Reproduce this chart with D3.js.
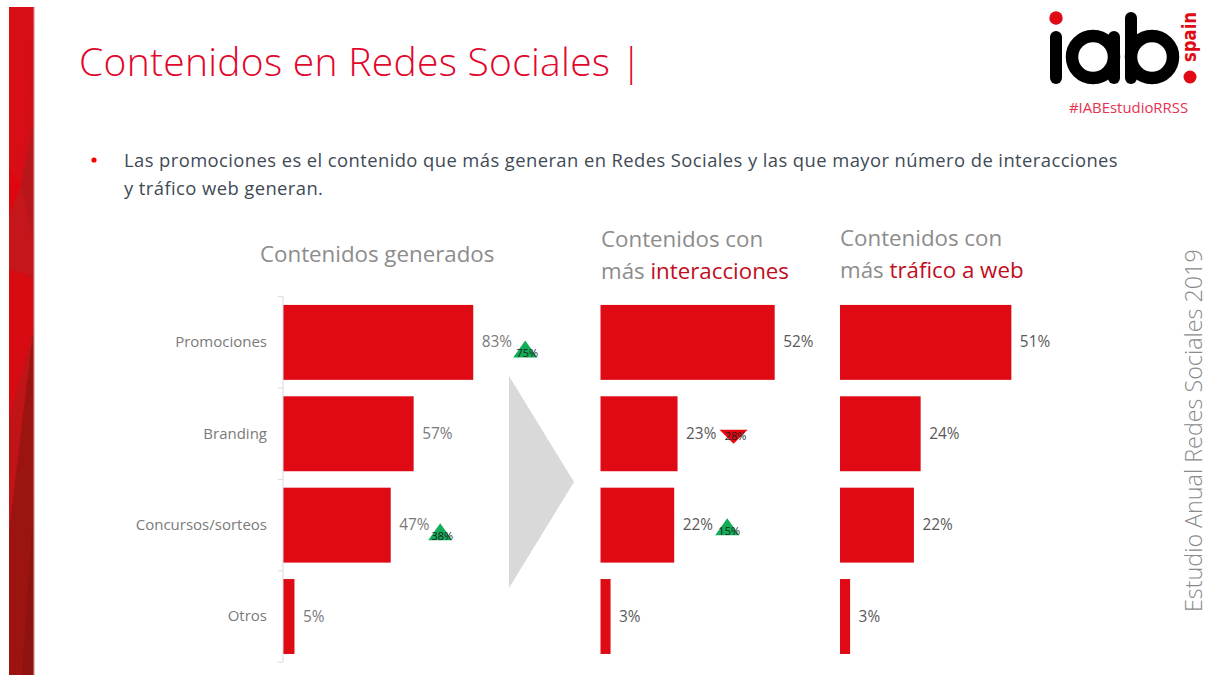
<!DOCTYPE html>
<html><head><meta charset="utf-8">
<script src="https://cdnjs.cloudflare.com/ajax/libs/d3/7.9.0/d3.min.js"></script>
<style>html,body{margin:0;padding:0;background:#fff}svg{display:block}text{font-family:"Open Sans",sans-serif}</style>
</head><body><svg id="c" width="1209" height="675"></svg>
<script>
const categories = ["Promociones","Branding","Concursos/sorteos","Otros"];
const generados = [83,57,47,5];
const interacciones = [52,23,22,3];
const trafico = [51,24,22,3];
const generadosPrev = [75,null,38,null];
const interaccionesPrev = [null,28,15,null];
const titleText = "Contenidos en Redes Sociales |";
const bulletLines = ["Las promociones es el contenido que más generan en Redes Sociales y las que mayor número de interacciones","y tráfico web generan."];

const RED="#df0a14", DK="#595959", GREEN="#12ad57";
const svg=d3.select("#c");
svg.append("rect").attr("width",1209).attr("height",675).attr("fill","#fff");

// side strip
const strip=svg.append("g");
strip.append("rect").attr("x",9).attr("y",7).attr("width",25).attr("height",668).attr("fill","#d20f17");
[["#d80d15","9,7 34,7 31,60 21,185 9,170"],["#e0060f","9,170 21,185 9,215"],["#b8161a","34,120 34,340 21,185"],
 ["#c4161b","9,215 21,185 33,240 33,275 9,270"],["#d80a12","9,270 33,278 33,330 9,420"],["#b5151a","33,330 9,430 9,530"],
 ["#9c1410","34,325 34,675 9,675 9,530"],["#c01518","9,420 33,330 9,530"],["#8e1210","34,500 34,675 22,675"]]
 .forEach(([c,p])=>strip.append("polygon").attr("points",p).attr("fill",c));
strip.append("rect").attr("x",33.5).attr("y",7).attr("width",1.2).attr("height",668).attr("fill","#e0a0a0");

// header
svg.append("text").attr("x",79).attr("y",76).attr("font-size",39).attr("font-weight",300).attr("letter-spacing",0.28).attr("fill","#e2062c").text(titleText);
svg.append("circle").attr("cx",94).attr("cy",160).attr("r",2.6).attr("fill","#f00");
bulletLines.forEach((t,i)=>svg.append("text").attr("x",124).attr("y",167+i*28).attr("font-size",18.4).attr("letter-spacing",0.42).attr("fill","#404a55").text(t));

// logo
const logo=svg.append("g");
logo.append("circle").attr("cx",1056).attr("cy",18).attr("r",6.7).attr("fill",RED);
logo.append("rect").attr("x",1050).attr("y",31).attr("width",12).attr("height",53).attr("rx",6).attr("fill","#000");
[[1093,1108],[1152,1125]].forEach(([cx,sx],i)=>{
  logo.append("circle").attr("cx",cx).attr("cy",57).attr("r",21).attr("fill","none").attr("stroke","#000").attr("stroke-width",12.5);
  logo.append("rect").attr("x",sx).attr("y",i?12:31).attr("width",12).attr("height",i?72:53).attr("rx",6).attr("fill","#000");
});
logo.append("circle").attr("cx",1190).attr("cy",77).attr("r",6.5).attr("fill",RED);
logo.append("text").attr("transform","translate(1196,62) rotate(-90)").attr("font-size",19).attr("font-weight",700).style("font-family",'"DejaVu Sans",sans-serif').attr("textLength",50).attr("lengthAdjust","spacingAndGlyphs").attr("fill",RED).text("spain");
svg.append("text").attr("x",1128.5).attr("y",113).attr("text-anchor","middle").attr("font-size",14.9).attr("fill","#e5324f").text("#IABEstudioRRSS");

// side label
svg.append("text").attr("transform","translate(1202,612) rotate(-90)").attr("font-size",23.3).attr("font-weight",300).attr("fill","#8a8a8a").text("Estudio Anual Redes Sociales 2019");

// panel headings
const head=(x,y,parts,sz)=>{const t=svg.append("text").attr("x",x).attr("y",y).attr("font-size",sz);
  parts.forEach(([s,bold])=>t.append("tspan").attr("fill",bold?"#c00d1e":"#8c8c8c").attr("font-weight",bold?500:400).text(s));};
head(260,262,[["Contenidos generados",0]],22.3);
head(601,247,[["Contenidos con",0]],22.3);
head(601,279,[["más ",0],["interacciones",1]],22.3);
head(840,246,[["Contenidos con",0]],22.3);
head(840,278,[["más ",0],["tráfico a web",1]],22.3);

// arrow
svg.append("polygon").attr("points","509,376 574,482 509,588").attr("fill","#d9d9d9");

// scales
const y=d3.scaleBand().domain(categories).range([296.7,662.2]).paddingInner(0.18).paddingOuter(0.09);
const panels=[
 {x0:283,k:2.292,vals:generados,prev:generadosPrev},
 {x0:600.5,k:3.35,vals:interacciones,prev:interaccionesPrev},
 {x0:840,k:3.36,vals:trafico,prev:[null,null,null,null]}
];
panels.forEach((p,pi)=>{
  const x=d3.scaleLinear().domain([0,100]).range([p.x0,p.x0+100*p.k]);
  const g=svg.append("g");
  g.selectAll("rect").data(categories).join("rect")
   .attr("x",x(0)).attr("y",d=>y(d)).attr("height",y.bandwidth())
   .attr("width",(d,i)=>x(p.vals[i])-x(0)).attr("fill",RED);
  g.selectAll("text.v").data(categories).join("text").attr("class","v")
   .attr("x",(d,i)=>x(p.vals[i])+8.5).attr("y",d=>y(d)+y.bandwidth()/2+5)
   .attr("font-size",15.4).attr("fill",pi==0?"#7a7a7a":DK).text((d,i)=>p.vals[i]+"%");
  p.prev.forEach((v,i)=>{
    if(v==null) return;
    const up=v<p.vals[i];
    const cx=x(p.vals[i])+(pi==0?(i==0?52:49.5):pi==1&&i==1?56:53);
    const cy=y(categories[i])+y.bandwidth()/2+(pi==0?9:pi==1&&i==1?1:4);
    const h=up?16:13, w=up?12:14;
    const pts=up?[[cx,cy-h/2-3],[cx+w,cy+h/2-2],[cx-w,cy+h/2-2]]:[[cx-w,cy-5],[cx+w,cy-5],[cx,cy+9]];
    g.append("polygon").attr("points",pts.join(" ")).attr("fill",up?GREEN:"#e8060f");
    g.append("text").attr("x",cx+2).attr("y",cy+(up?6:5)).attr("text-anchor","middle").attr("font-size",11).attr("fill","#222").text(v+"%");
  });
});

// first-panel axis
const axis=d3.axisLeft(y).tickSize(0).tickPadding(16);
const ax=svg.append("g").attr("transform","translate(283,0)").call(axis);
ax.select(".domain").remove();
ax.selectAll("text").attr("font-size",15).attr("fill","#7a7a7a").style("font-family",'"Open Sans",sans-serif');
const step=y.step();
const tickYs=categories.map((c,i)=>y(c)-step*0.09);
tickYs.push(662.2);
svg.append("line").attr("x1",283).attr("x2",283).attr("y1",296.7).attr("y2",662.2).attr("stroke","#d9d9d9");
tickYs.forEach(v=>svg.append("line").attr("x1",278).attr("x2",283).attr("y1",v).attr("y2",v).attr("stroke","#d9d9d9"));
</script></body></html>
